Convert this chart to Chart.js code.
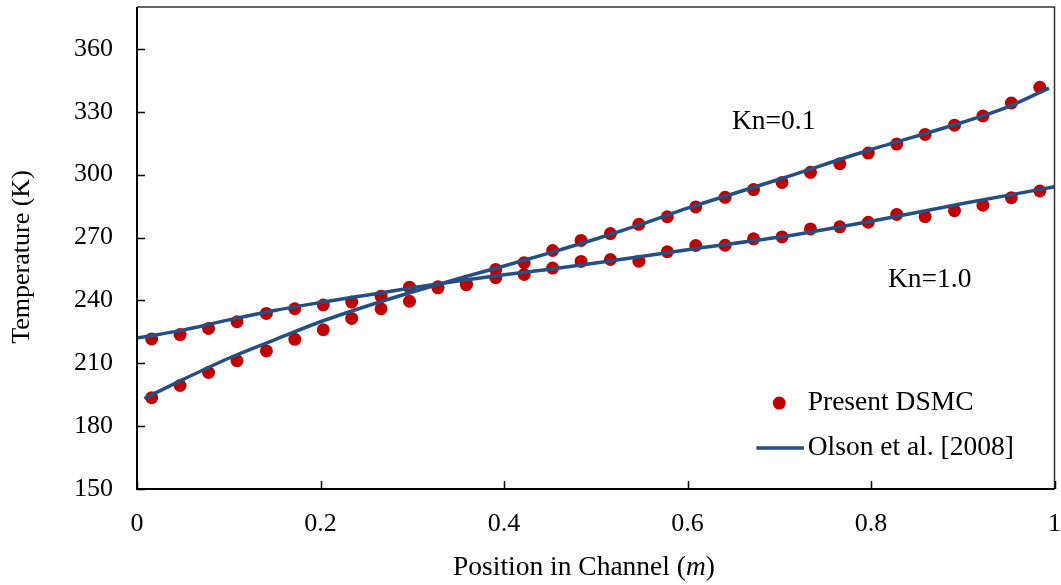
<!DOCTYPE html>
<html>
<head>
<meta charset="utf-8">
<script src="https://cdn.jsdelivr.net/npm/chart.js@4"></script>
<style>
  html, body { margin: 0; padding: 0; background: #fff; }
  #wrap { width: 1061px; height: 585px; }
</style>
</head>
<body>
<div id="wrap"><canvas id="chart" width="1061" height="585"></canvas></div>
<script>
// DSMC cell centres along the channel (m)
const dsmcX = [0.016, 0.047, 0.078, 0.109, 0.141, 0.172, 0.203, 0.234, 0.266, 0.297, 0.328,
               0.359, 0.391, 0.422, 0.453, 0.484, 0.516, 0.547, 0.578, 0.609, 0.641, 0.672,
               0.703, 0.734, 0.766, 0.797, 0.828, 0.859, 0.891, 0.922, 0.953, 0.984];
// DSMC temperatures (K)
const dsmcKn01 = [193.6, 199.4, 205.6, 211.2, 215.9, 221.4, 226, 231.4, 236, 239.6, 246,
                  247.5, 254.8, 258, 263.8, 268.6, 271.9, 276.3, 279.9, 284.6, 289.2, 292.9,
                  296.3, 301.1, 305.2, 310.3, 314.6, 319.2, 323.6, 328, 334.2, 341.7];
const dsmcKn10 = [221.6, 223.7, 226.6, 229.8, 233.8, 236, 237.8, 239.2, 242, 246.3, 246.5,
                  247.8, 250.8, 252.4, 255.4, 258.6, 259.5, 258.7, 263.2, 266.2, 266.3, 269.4,
                  270.3, 274.1, 275.1, 277.3, 281, 280, 282.8, 285.4, 289, 292.2];

// Olson et al. [2008] curves
const olsonX01 = [0.008, 0.05, 0.1, 0.15, 0.2, 0.25, 0.3, 0.35, 0.4, 0.45, 0.5, 0.55, 0.6, 0.7, 0.8, 0.9, 0.95, 0.994];
const olsonKn01 = [193.2, 202.2, 212.4, 221.2, 229.8, 237.2, 244, 250.4, 256.4, 262.7, 269.3, 276.4, 284, 297.8, 312, 325, 332.5, 341.3];
const olsonX10 = [0, 0.05, 0.1, 0.15, 0.2, 0.25, 0.3, 0.35, 0.4, 0.45, 0.5, 0.6, 0.7, 0.8, 0.9, 1.0];
const olsonKn10 = [222, 225.8, 230.7, 235.2, 239, 242.5, 246, 249.3, 252.2, 254.9, 257.8, 264.2, 270.2, 277.8, 286.2, 294.2];

// Axis ranges and ticks
const xTicks = [0, 0.2, 0.4, 0.6, 0.8, 1];
const xTickLabels = ['0', '0.2', '0.4', '0.6', '0.8', '1'];
const yTicks = [150, 180, 210, 240, 270, 300, 330, 360];
const yMax = 380;

const legendLabels = ['Present DSMC', 'Olson et al. [2008]'];
const curveLabels = ['Kn=0.1', 'Kn=1.0'];

const FONT = "'Liberation Serif', 'Times New Roman', serif";
const RED = '#C00000';
const BLUE = '#264F81';

const toPoints = (xs, ys) => xs.map((x, i) => ({ x: x, y: ys[i] }));

// Frame, inward ticks, axis titles, curve labels and legend
const decorations = {
  id: 'decorations',
  afterDatasetsDraw(chart) {
    const { ctx, chartArea: a, scales } = chart;
    const sx = scales.x, sy = scales.y;
    ctx.save();

    // lighter top/right frame
    ctx.strokeStyle = '#333';
    ctx.lineWidth = 1.5;
    ctx.beginPath();
    ctx.moveTo(a.left, a.top);
    ctx.lineTo(a.right, a.top);
    ctx.lineTo(a.right, a.bottom);
    ctx.stroke();

    // main axes
    ctx.strokeStyle = '#000';
    ctx.lineWidth = 2;
    ctx.beginPath();
    ctx.moveTo(a.left, a.top);
    ctx.lineTo(a.left, a.bottom);
    ctx.lineTo(a.right, a.bottom);
    ctx.stroke();

    // tick marks pointing into the plot
    ctx.lineWidth = 1.5;
    ctx.beginPath();
    yTicks.forEach(v => {
      const py = Math.round(sy.getPixelForValue(v)) + 0.5;
      ctx.moveTo(a.left, py);
      ctx.lineTo(a.left + 8, py);
    });
    xTicks.forEach(v => {
      const px = Math.round(sx.getPixelForValue(v)) + 0.5;
      ctx.moveTo(px, a.bottom);
      ctx.lineTo(px, a.bottom - 8);
    });
    ctx.stroke();

    ctx.fillStyle = '#000';
    ctx.textBaseline = 'middle';

    // y title
    ctx.save();
    ctx.translate(22, 257);
    ctx.rotate(-Math.PI / 2);
    ctx.textAlign = 'center';
    ctx.font = '26px ' + FONT;
    ctx.fillText('Temperature (K)', 0, 0);
    ctx.restore();

    // x title with italic unit
    const parts = [
      ['Position in Channel (', '27.5px ' + FONT],
      ['m', 'italic 27.5px ' + FONT],
      [')', '27.5px ' + FONT]
    ];
    let total = 0;
    parts.forEach(p => { ctx.font = p[1]; total += ctx.measureText(p[0]).width; });
    let tx = 584 - total / 2;
    ctx.textAlign = 'left';
    parts.forEach(p => {
      ctx.font = p[1];
      ctx.fillText(p[0], tx, 568);
      tx += ctx.measureText(p[0]).width;
    });

    // curve labels
    ctx.font = '27.5px ' + FONT;
    ctx.textAlign = 'center';
    ctx.fillText(curveLabels[0], sx.getPixelForValue(0.694), sy.getPixelForValue(325));
    ctx.fillText(curveLabels[1], sx.getPixelForValue(0.864), sy.getPixelForValue(250));

    // legend
    const lx = sx.getPixelForValue(0.700);
    const ly1 = sy.getPixelForValue(191);
    const ly2 = sy.getPixelForValue(169.6);
    ctx.fillStyle = RED;
    ctx.beginPath();
    ctx.arc(lx, ly1, 6.5, 0, Math.PI * 2);
    ctx.fill();
    ctx.strokeStyle = BLUE;
    ctx.lineWidth = 3.5;
    ctx.beginPath();
    ctx.moveTo(sx.getPixelForValue(0.675), ly2);
    ctx.lineTo(sx.getPixelForValue(0.727), ly2);
    ctx.stroke();
    ctx.fillStyle = '#000';
    ctx.textAlign = 'left';
    const textX = sx.getPixelForValue(0.731);
    ctx.fillText(legendLabels[0], textX, ly1);
    ctx.fillText(legendLabels[1], textX, ly2);

    ctx.restore();
  }
};

new Chart(document.getElementById('chart'), {
  type: 'scatter',
  data: {
    datasets: [
      {
        label: 'Olson Kn=0.1',
        data: toPoints(olsonX01, olsonKn01),
        showLine: true,
        borderColor: BLUE,
        borderWidth: 3.5,
        pointRadius: 0,
        cubicInterpolationMode: 'monotone',
        order: 1
      },
      {
        label: 'Olson Kn=1.0',
        data: toPoints(olsonX10, olsonKn10),
        showLine: true,
        borderColor: BLUE,
        borderWidth: 3.5,
        pointRadius: 0,
        cubicInterpolationMode: 'monotone',
        order: 1
      },
      {
        label: 'DSMC Kn=0.1',
        data: toPoints(dsmcX, dsmcKn01),
        backgroundColor: RED,
        borderWidth: 0,
        pointRadius: 6.5,
        order: 2
      },
      {
        label: 'DSMC Kn=1.0',
        data: toPoints(dsmcX, dsmcKn10),
        backgroundColor: RED,
        borderWidth: 0,
        pointRadius: 6.5,
        order: 2
      }
    ]
  },
  options: {
    responsive: false,
    animation: false,
    events: [],
    layout: { padding: { top: 7, right: 3, left: 0, bottom: 0 } },
    plugins: {
      legend: { display: false },
      tooltip: { enabled: false }
    },
    scales: {
      x: {
        type: 'linear',
        min: 0,
        max: 1,
        grid: { display: false, drawTicks: false },
        border: { display: false },
        afterBuildTicks: s => { s.ticks = xTicks.map(v => ({ value: v })); },
        ticks: {
          padding: 20,
          color: '#000',
          font: { family: FONT, size: 26 },
          maxRotation: 0,
          autoSkip: false,
          callback: (v, i) => xTickLabels[i]
        },
        afterFit: s => { s.height = 96; s.paddingLeft = 0; s.paddingRight = 0; }
      },
      y: {
        min: 150,
        max: yMax,
        grid: { display: false, drawTicks: false },
        border: { display: false },
        afterBuildTicks: s => { s.ticks = yTicks.map(v => ({ value: v })); },
        ticks: {
          padding: 24,
          color: '#000',
          font: { family: FONT, size: 26 }
        },
        afterFit: s => { s.width = 137; s.paddingTop = 0; s.paddingBottom = 0; }
      }
    }
  },
  plugins: [decorations]
});
</script>
</body>
</html>
